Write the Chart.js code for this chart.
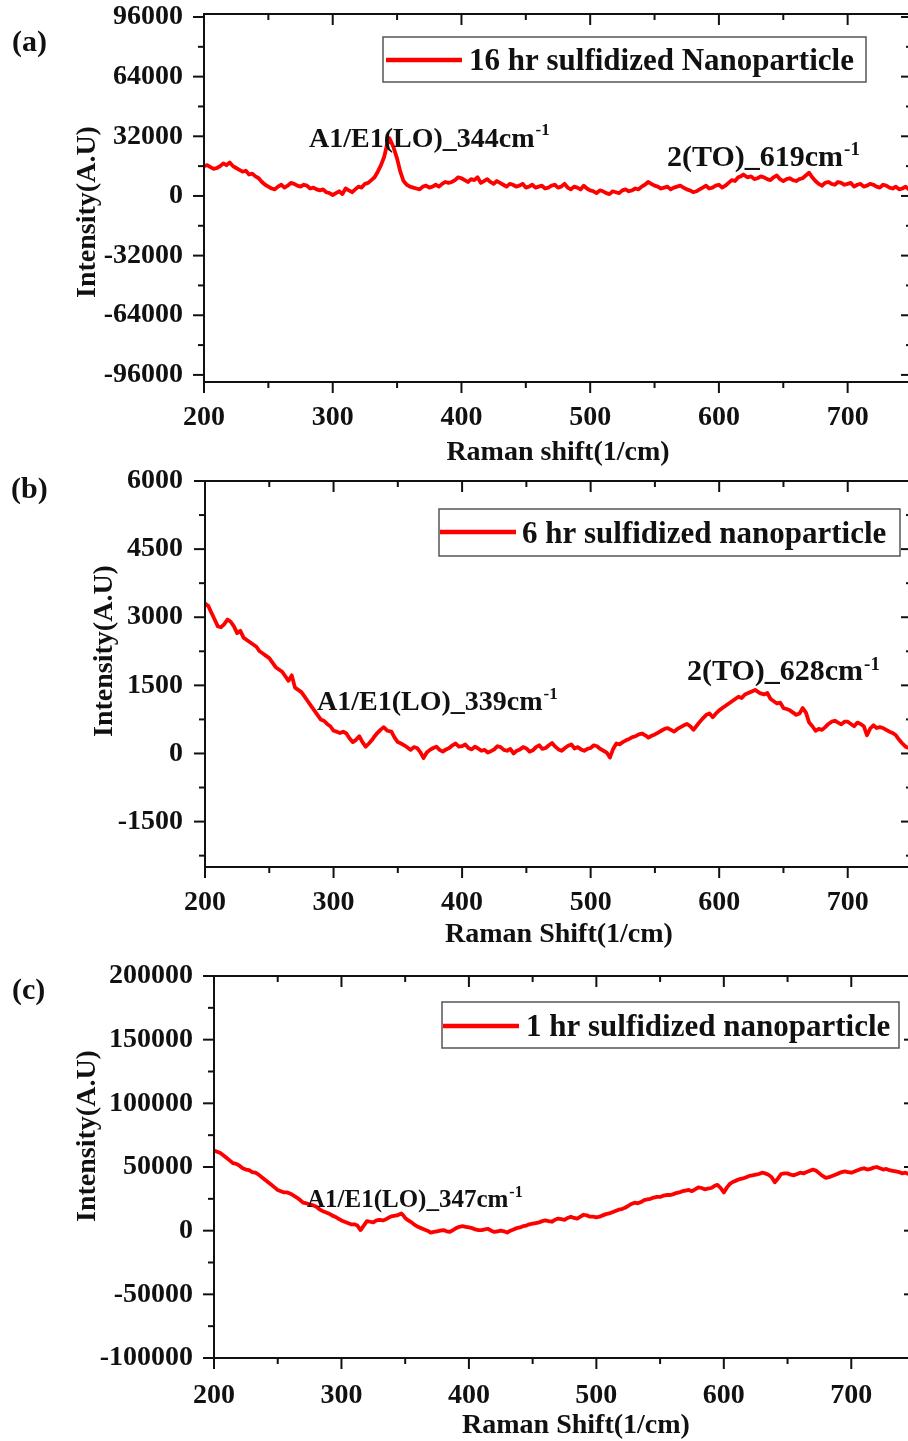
<!DOCTYPE html>
<html>
<head>
<meta charset="utf-8">
<title>Raman spectra of sulfidized nanoparticles</title>
<script src="https://cdn.jsdelivr.net/npm/chart.js@4/dist/chart.umd.min.js"></script>
<style>
  html, body { margin: 0; padding: 0; background: #fff; overflow: hidden; width: 908px; height: 1441px; }
  canvas.panel { position: absolute; left: 0; }
</style>
</head>
<body>
<canvas id="panelA" class="panel" width="930" height="470" style="top:0px"></canvas>
<canvas id="panelB" class="panel" width="930" height="490" style="top:470px"></canvas>
<canvas id="panelC" class="panel" width="930" height="481" style="top:960px"></canvas>
<script>
// ---- axis ticks ----
const xTicks = [200, 300, 400, 500, 600, 700];
const xMinorTicks = [250, 350, 450, 550, 650];
const yTicksA = [-96000, -64000, -32000, 0, 32000, 64000, 96000];
const yMinorA = [-80000, -48000, -16000, 16000, 48000, 80000];
const yTicksB = [-1500, 0, 1500, 3000, 4500, 6000];
const yMinorB = [-2250, -750, 750, 2250, 3750, 5250];
const yTicksC = [-100000, -50000, 0, 50000, 100000, 150000, 200000];
const yMinorC = [-75000, -25000, 25000, 75000, 125000, 175000];

// ---- (a) 16 hr sulfidized ----
const shiftA = [
  200,202.5,205,207.5,210,212.5,215,217.5,220,222.5,
  225,227.5,230,232.5,235,237.5,240,242.5,245,247.5,
  250,252.5,255,257.5,260,262.5,265,267.5,270,272.5,
  275,277.5,280,282.5,285,287.5,290,292.5,295,297.5,
  300,302.5,305,307.5,310,312.5,315,317.5,320,322.5,
  325,327.5,330,332.5,335,337.5,340,342,344,347,
  350,352.5,355,357.5,360,362.5,365,367.5,370,372.5,
  375,377.5,380,382.5,385,387.5,390,392.5,395,397.5,
  400,402.5,405,407.5,410,412.5,415,417.5,420,422.5,
  425,427.5,430,432.5,435,437.5,440,442.5,445,447.5,
  450,452.5,455,457.5,460,462.5,465,467.5,470,472.5,
  475,477.5,480,482.5,485,487.5,490,492.5,495,497.5,
  500,502.5,505,507.5,510,512.5,515,517.5,520,522.5,
  525,527.5,530,532.5,535,537.5,540,542.5,545,547.5,
  550,552.5,555,557.5,560,562.5,565,567.5,570,572.5,
  575,577.5,580,582.5,585,587.5,590,592.5,595,597.5,
  600,602.5,605,607.5,610,612.5,615,617,619,622,
  625,627.5,630,632.5,635,637.5,640,642.5,645,647.5,
  650,652.5,655,657.5,660,662.5,665,667.5,670,672.5,
  675,677.5,680,682.5,685,687.5,690,692.5,695,697.5,
  700,702.5,705,707.5,710,712.5,715,717.5,720,722.5,
  725,727.5,730,732.5,735,737.5,740,742.5,745,747.5,
  750];
const intensityA = [
  16000,16500,15500,14500,15000,16000,17500,16500,18000,16000,
  15000,14000,13000,13500,11500,12000,10500,9500,7500,6000,
  5000,4000,3500,5000,6000,4500,5500,7000,6500,5500,
  5000,6000,5500,4000,4500,3500,3000,3500,2000,1500,
  500,1500,2500,1000,4000,3000,2000,3500,5000,4500,
  6500,7000,8500,10000,13000,16500,21000,27000,31000,26500,
  20000,13000,8000,6000,5000,4500,4000,3500,5000,5500,
  4500,5000,6000,5000,6500,7500,7000,7500,8500,10000,
  9500,8500,7500,9000,8500,10000,7000,8000,9000,7500,
  6500,8000,7000,6000,5000,6500,6000,5000,5500,6500,
  4500,5000,6000,4500,5000,5500,4000,4500,5500,6000,
  4500,5000,6500,4500,3500,5000,4500,3500,5500,4000,
  3000,2500,1500,3000,2500,1500,1000,2500,2000,1500,
  3000,3500,2500,3000,4000,3500,5000,6000,7500,6500,
  5500,5000,4000,4500,5000,3500,4500,5000,5500,4500,
  3500,3000,2000,2500,3500,4500,5500,4000,4500,5500,
  6000,4500,5500,7000,8500,8000,10000,10500,11500,10000,
  10500,9000,9500,10500,10000,9000,8500,10000,11000,9000,
  8000,9000,9500,8500,8000,9000,9500,11000,12500,10000,
  8000,6500,5500,7000,7500,6500,6000,7500,7000,6000,
  6500,7000,5000,6000,6500,5000,5500,6500,6000,5000,
  4500,6000,5500,4500,4000,5000,3500,4000,5000,3500,
  2500];

// ---- (b) 6 hr sulfidized ----
const shiftB = [
  200,202.5,205,207.5,210,212.5,215,217.5,220,222.5,
  225,227.5,230,232.5,235,237.5,240,242.5,245,247.5,
  250,252.5,255,257.5,260,262.5,265,267.5,270,272.5,
  275,277.5,280,282.5,285,287.5,290,292.5,295,297.5,
  300,302.5,305,307.5,310,312.5,315,317.5,320,322.5,
  325,327.5,330,332,334,336.5,339,342,345,347.5,
  350,352.5,355,357.5,360,362.5,365,367.5,370,372.5,
  375,377.5,380,382.5,385,387.5,390,392.5,395,397.5,
  400,402.5,405,407.5,410,412.5,415,417.5,420,422.5,
  425,427.5,430,432.5,435,437.5,440,442.5,445,447.5,
  450,452.5,455,457.5,460,462.5,465,467.5,470,472.5,
  475,477.5,480,482.5,485,487.5,490,492.5,495,497.5,
  500,502.5,505,507.5,510,512.5,515,517.5,520,522.5,
  525,527.5,530,532.5,535,537.5,540,542.5,545,547.5,
  550,552.5,555,557.5,560,562.5,565,567.5,570,572.5,
  575,577.5,580,582.5,585,587.5,590,592.5,595,597.5,
  600,602.5,605,607.5,610,612.5,615,617.5,620,624,
  628,631.5,635,637.5,640,642.5,645,647.5,650,652.5,
  655,657.5,660,662.5,665,667.5,670,672.5,675,677.5,
  680,682.5,685,687.5,690,692.5,695,697.5,700,702.5,
  705,707.5,710,712.5,715,717.5,720,722.5,725,727.5,
  730,732.5,735,737.5,740,742.5,745,747.5,750];
const intensityB = [
  3300,3250,3100,2950,2800,2780,2850,2950,2900,2800,
  2650,2700,2550,2500,2450,2400,2350,2250,2200,2150,
  2100,2000,1900,1850,1800,1700,1600,1720,1450,1400,
  1350,1250,1150,1050,950,850,750,720,650,600,
  500,480,450,480,440,330,250,300,380,250,
  150,220,300,380,450,520,580,500,480,350,
  250,220,180,130,80,140,120,30,-100,20,
  80,120,150,80,40,90,120,180,220,150,
  160,200,120,90,150,110,60,80,20,50,
  90,160,140,80,60,100,0,60,90,140,
  110,40,70,140,180,100,120,180,230,150,
  90,60,120,170,200,110,140,90,60,100,
  120,180,160,100,60,20,-90,100,220,200,
  250,290,320,360,380,420,440,400,350,390,
  420,460,500,540,560,520,480,540,580,620,
  650,600,520,610,700,780,850,880,800,880,
  950,1000,1050,1100,1150,1200,1250,1220,1300,1350,
  1400,1330,1300,1330,1200,1150,1100,1120,1000,980,
  950,900,850,880,1000,900,680,600,500,540,
  520,580,650,700,720,680,640,700,700,650,
  600,680,650,600,400,550,620,560,580,560,
  520,480,450,400,300,220,150,120,200];

// ---- (c) 1 hr sulfidized ----
const shiftC = [
  200,202.5,205,207.5,210,212.5,215,217.5,220,222.5,
  225,227.5,230,232.5,235,237.5,240,242.5,245,247.5,
  250,252.5,255,257.5,260,262.5,265,267.5,270,272.5,
  275,277.5,280,282.5,285,287.5,290,292.5,295,297.5,
  300,302.5,305,307.5,310,312.5,315,317.5,320,322.5,
  325,327.5,330,332.5,335,337.5,340,343.5,347,348.5,
  350,352.5,355,357.5,360,362.5,365,367.5,370,372.5,
  375,377.5,380,382.5,385,387.5,390,392.5,395,397.5,
  400,402.5,405,407.5,410,412.5,415,417.5,420,422.5,
  425,427.5,430,432.5,435,437.5,440,442.5,445,447.5,
  450,452.5,455,457.5,460,462.5,465,467.5,470,472.5,
  475,477.5,480,482.5,485,487.5,490,492.5,495,497.5,
  500,502.5,505,507.5,510,512.5,515,517.5,520,522.5,
  525,527.5,530,532.5,535,537.5,540,542.5,545,547.5,
  550,552.5,555,557.5,560,562.5,565,567.5,570,572.5,
  575,577.5,580,582.5,585,587.5,590,592.5,595,597.5,
  600,602.5,605,607.5,610,612.5,615,617.5,620,622.5,
  625,627.5,630,632.5,635,637.5,640,642.5,645,647.5,
  650,652.5,655,657.5,660,662.5,665,667.5,670,672.5,
  675,677.5,680,682.5,685,687.5,690,692.5,695,697.5,
  700,702.5,705,707.5,710,712.5,715,717.5,720,722.5,
  725,727.5,730,732.5,735,737.5,740,742.5,745,747.5,
  750];
const intensityC = [
  63000,62000,61000,59000,57000,55000,53000,52500,51000,49000,
  48000,47500,46000,45500,44000,42000,40000,38000,36000,34000,
  32000,31000,30000,30000,29000,27500,26000,24000,22000,21500,
  20500,20000,19000,17000,15500,14500,13500,12000,11000,9500,
  8000,7000,6000,5000,5000,4000,500,4000,7500,7000,
  6500,8000,8500,8000,9000,10500,11500,12000,13500,12000,
  10000,8000,6500,4500,3000,2000,1000,0,-1500,-1000,
  -500,0,500,-500,-1000,500,2000,3000,3500,3000,
  2500,2000,1000,500,500,1000,1500,0,-1000,-500,
  0,-500,-1500,0,1000,2000,2500,3500,4000,5000,
  5500,6000,6500,7500,8000,7500,7000,8500,9500,9000,
  8500,10000,11000,10000,9500,11000,12500,12000,11000,11000,
  10500,11000,12000,13000,13500,14500,15500,16500,17000,18000,
  19500,21000,22000,21500,22500,24000,24500,25000,26000,26500,
  26500,27500,28000,28000,28500,29500,30000,31000,31500,32000,
  31000,32500,34000,33500,32500,33000,33500,35000,36000,33500,
  30000,34000,37000,38500,39500,40500,41000,42000,43000,43500,
  44000,44500,45500,45000,44000,42000,38000,41000,44500,45000,
  45000,44000,43500,44500,45500,45000,46000,47000,48000,47000,
  45000,43000,41500,42000,43000,44000,45000,46000,46500,46000,
  45500,46500,47500,48500,49000,48000,48500,49500,50000,49000,
  48000,48500,47500,47000,46500,46000,45000,45500,44500,44000,
  43500];

const FONT = '"Liberation Serif", "Times New Roman", serif';
Chart.defaults.font.family = FONT;

// Box frame, Origin-style tick marks, labels, legend and peak annotations
const framePlugin = {
  id: 'frame',
  afterDatasetsDraw(chart, args, o) {
    const { ctx, chartArea: a, scales: { x, y } } = chart;
    ctx.save();
    ctx.strokeStyle = '#111';
    ctx.lineWidth = 2;
    ctx.lineCap = 'butt';
    ctx.strokeRect(a.left, a.top, a.right - a.left, a.bottom - a.top);
    const seg = (x1, y1, x2, y2) => { ctx.beginPath(); ctx.moveTo(x1, y1); ctx.lineTo(x2, y2); ctx.stroke(); };
    const MAJ = 11, MIN = 6;
    o.xMajor.forEach(v => { const p = x.getPixelForValue(v); seg(p, a.bottom, p, a.bottom + MAJ); seg(p, a.top, p, a.top + MAJ); });
    o.xMinor.forEach(v => { const p = x.getPixelForValue(v); seg(p, a.bottom, p, a.bottom + MIN); seg(p, a.top, p, a.top + MIN); });
    o.yMajor.forEach(v => { const p = y.getPixelForValue(v); seg(a.left - MAJ, p, a.left, p); seg(a.right - MAJ, p, a.right, p); });
    o.yMinor.forEach(v => { const p = y.getPixelForValue(v); seg(a.left - MIN, p, a.left, p); seg(a.right - MIN, p, a.right, p); });

    ctx.fillStyle = '#111';
    // panel letter
    ctx.font = 'bold 30px ' + FONT;
    ctx.textAlign = 'left';
    ctx.textBaseline = 'alphabetic';
    ctx.fillText(o.letter.text, o.letter.x, o.letter.y);

    // axis titles
    ctx.font = 'bold 28px ' + FONT;
    ctx.textAlign = 'center';
    ctx.fillText(o.xTitle.text, o.xTitle.x, o.xTitle.y);
    ctx.save();
    ctx.translate(o.yTitle.x, o.yTitle.y);
    ctx.rotate(-Math.PI / 2);
    ctx.fillText(o.yTitle.text, 0, 0);
    ctx.restore();

    // legend
    const lg = o.legend;
    const ds = chart.data.datasets[0];
    ctx.strokeStyle = '#555';
    ctx.lineWidth = 1.5;
    ctx.strokeRect(lg.box[0], lg.box[1], lg.box[2] - lg.box[0], lg.box[3] - lg.box[1]);
    ctx.strokeStyle = ds.borderColor;
    ctx.lineWidth = 4.5;
    seg(lg.line[0], lg.line[2], lg.line[1], lg.line[2]);
    ctx.font = 'bold ' + lg.size + 'px ' + FONT;
    ctx.textAlign = 'left';
    ctx.fillText(ds.label, lg.textX, lg.textY);

    // peak annotations with superscript
    o.notes.forEach(n => {
      ctx.font = 'bold ' + n.size + 'px ' + FONT;
      ctx.fillText(n.text, n.x, n.y);
      const w = ctx.measureText(n.text).width;
      ctx.font = 'bold ' + Math.round(n.size * 0.62) + 'px ' + FONT;
      ctx.fillText('-1', n.x + w + 1, n.supY);
    });
    ctx.restore();
  }
};

function makePanel(id, cfg) {
  const cv = document.getElementById(id);
  const tickFont = { family: FONT, size: 28, weight: 'bold' };
  return new Chart(cv, {
    type: 'line',
    data: {
      datasets: [{
        label: cfg.label,
        data: cfg.xs.map((v, i) => ({ x: v, y: cfg.ys[i] })),
        borderColor: '#ff0000',
        borderWidth: 3.8,
        borderJoinStyle: 'round',
        borderCapStyle: 'round',
        pointRadius: 0,
        tension: 0,
        fill: false
      }]
    },
    options: {
      responsive: false,
      animation: false,
      devicePixelRatio: 1,
      layout: { padding: { top: cfg.area.top, left: 0, right: cv.width - cfg.area.right, bottom: 0 } },
      plugins: {
        legend: { display: false },
        tooltip: { enabled: false },
        frame: cfg.frame
      },
      scales: {
        x: {
          type: 'linear', min: 200, max: 750,
          grid: { display: false, drawTicks: false },
          border: { display: false },
          afterFit: s => { s.height = cv.height - cfg.area.bottom; s.paddingLeft = 0; s.paddingRight = 0; },
          afterBuildTicks: s => { s.ticks = xTicks.map(v => ({ value: v })); },
          ticks: { font: tickFont, color: '#111', padding: cfg.xPad, autoSkip: false, maxRotation: 0, callback: v => String(v) }
        },
        y: {
          type: 'linear', min: cfg.yMin, max: cfg.yMax,
          grid: { display: false, drawTicks: false },
          border: { display: false },
          afterFit: s => { s.width = cfg.area.left; s.paddingTop = 0; s.paddingBottom = 0; },
          afterBuildTicks: s => { s.ticks = cfg.yTicks.map(v => ({ value: v })); },
          ticks: { font: tickFont, color: '#111', padding: cfg.yPad, autoSkip: false, callback: v => String(v) }
        }
      }
    },
    plugins: [framePlugin]
  });
}

makePanel('panelA', {
  label: '16 hr sulfidized Nanoparticle',
  xs: shiftA, ys: intensityA,
  yMin: -99800, yMax: 97600, yTicks: yTicksA,
  area: { left: 204, top: 14, right: 912, bottom: 382 },
  xPad: 19, yPad: 21,
  frame: {
    xMajor: xTicks, xMinor: xMinorTicks, yMajor: yTicksA, yMinor: yMinorA,
    letter: { text: '(a)', x: 12, y: 51 },
    xTitle: { text: 'Raman shift(1/cm)', x: 558, y: 460 },
    yTitle: { text: 'Intensity(A.U)', x: 95, y: 212 },
    legend: { box: [383, 37, 866, 82], line: [386, 462, 60], textX: 469, textY: 70, size: 31 },
    notes: [
      { text: 'A1/E1(LO)_344cm', x: 309, y: 147, size: 28, supY: 135 },
      { text: '2(TO)_619cm', x: 667, y: 166, size: 30, supY: 155 }
    ]
  }
});

makePanel('panelB', {
  label: '6 hr sulfidized nanoparticle',
  xs: shiftB, ys: intensityB,
  yMin: -2500, yMax: 6000, yTicks: yTicksB,
  area: { left: 205, top: 11, right: 912, bottom: 397 },
  xPad: 19, yPad: 22,
  frame: {
    xMajor: xTicks, xMinor: xMinorTicks, yMajor: yTicksB, yMinor: yMinorB,
    letter: { text: '(b)', x: 11, y: 28 },
    xTitle: { text: 'Raman Shift(1/cm)', x: 559, y: 472 },
    yTitle: { text: 'Intensity(A.U)', x: 112, y: 181 },
    legend: { box: [439, 39, 900, 86], line: [440, 516, 62], textX: 522, textY: 73, size: 31 },
    notes: [
      { text: 'A1/E1(LO)_339cm', x: 317, y: 240, size: 28, supY: 229 },
      { text: '2(TO)_628cm', x: 687, y: 210, size: 30, supY: 200 }
    ]
  }
});

makePanel('panelC', {
  label: '1 hr sulfidized nanoparticle',
  xs: shiftC, ys: intensityC,
  yMin: -100000, yMax: 200000, yTicks: yTicksC,
  area: { left: 214, top: 16, right: 915, bottom: 398 },
  xPad: 21, yPad: 21,
  frame: {
    xMajor: xTicks, xMinor: xMinorTicks, yMajor: yTicksC, yMinor: yMinorC,
    letter: { text: '(c)', x: 12, y: 39 },
    xTitle: { text: 'Raman Shift(1/cm)', x: 576, y: 473 },
    yTitle: { text: 'Intensity(A.U)', x: 95, y: 176 },
    legend: { box: [442, 42, 899, 88], line: [443, 519, 66], textX: 526, textY: 76, size: 31 },
    notes: [
      { text: 'A1/E1(LO)_347cm', x: 307, y: 247, size: 25, supY: 237 }
    ]
  }
});
</script>
</body>
</html>
